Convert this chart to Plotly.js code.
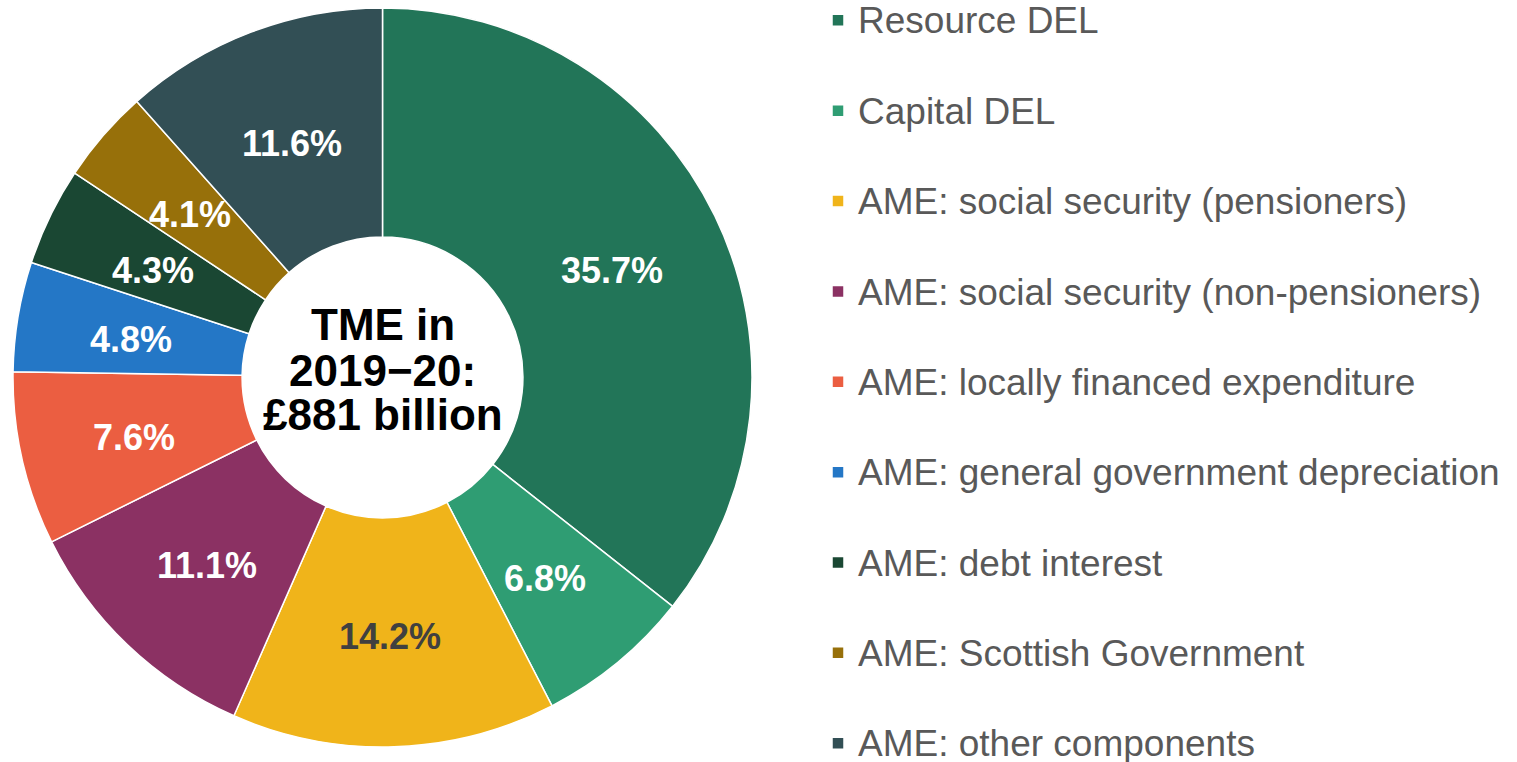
<!DOCTYPE html>
<html>
<head>
<meta charset="utf-8">
<script src="https://cdn.plot.ly/plotly-3.0.1.min.js"></script>
<style>
  html, body { margin: 0; padding: 0; overflow: hidden; background: #ffffff; }
  #chart { width: 1517px; height: 790px; margin-top: -8px; }
</style>
</head>
<body>
<div id="chart"></div>
<script>
// ---- data ----
const categories = [
  "Resource DEL",
  "Capital DEL",
  "AME: social security (pensioners)",
  "AME: social security (non-pensioners)",
  "AME: locally financed expenditure",
  "AME: general government depreciation",
  "AME: debt interest",
  "AME: Scottish Government",
  "AME: other components"
];
const shares = [35.7, 6.8, 14.2, 11.1, 7.6, 4.8, 4.3, 4.1, 11.6];
const colours = ["#227558", "#2f9d73", "#f0b41a", "#8b3163", "#eb5e41", "#2477c6", "#1a4733", "#97700a", "#324f55"];
const labelColours = ["#ffffff", "#ffffff", "#404040", "#ffffff", "#ffffff", "#ffffff", "#ffffff", "#ffffff", "#ffffff"];
const centreLines = ["TME in", "2019\u221220:", "\u00a3881 billion"];

// ---- layout helpers ----
const W = 1517, H = 790, OFFSET = 8;
const cx = 382.5, cy = 377.5 + OFFSET, R = 369.5;
const HOLE = 0.38;

// legend entries: label on the first line, a blank second line for spacing (last entry single line)
const legendLabels = categories.map((c, i) =>
  '<span style="font-size:37px">' + c + '</span>' + (i < categories.length - 1 ? '<br>&#160;' : '')
);

const trace = {
  type: 'pie',
  labels: legendLabels,
  values: shares,
  textinfo: 'none',
  sort: false,
  direction: 'clockwise',
  rotation: 0,
  hole: HOLE,
  marker: { colors: colours, line: { color: '#ffffff', width: 1.5 } },
  hoverinfo: 'none',
  domain: {
    x: [(cx - R) / W, (cx + R) / W],
    y: [(H - cy - R) / H, (H - cy + R) / H]
  }
};

// slice labels: placed at the middle of the ring, at each slice's mid-angle (derived from the shares)
const total = shares.reduce((a, b) => a + b, 0);
const rMid = R * (1 + HOLE) / 2;
let cum = 0;
const sliceLabels = shares.map((v, i) => {
  const mid = (cum + v / 2) / total * 2 * Math.PI;
  cum += v;
  const px = cx + rMid * Math.sin(mid);
  const py = cy - rMid * Math.cos(mid) + 4;
  return {
    text: '<b>' + v.toFixed(1) + '%</b>',
    x: px / W, y: (H - py) / H, xref: 'paper', yref: 'paper',
    xanchor: 'center', yanchor: 'middle', showarrow: false,
    font: { family: 'Liberation Sans, Arial, sans-serif', size: 36, color: labelColours[i] }
  };
});

const annY = (H - cy) / H;
const centreAnns = centreLines.map((t, i) => ({
  text: '<b>' + t + '</b>',
  x: cx / W, y: annY, xref: 'paper', yref: 'paper',
  xanchor: 'center', yanchor: 'middle',
  showarrow: false,
  height: 40,
  borderpad: 0,
  yshift: [54, 7.5, -36.5][i],
  font: { family: 'Liberation Sans, Arial, sans-serif', size: 44, color: '#000000' }
}));

const layout = {
  width: W, height: H,
  margin: { l: 0, r: 0, t: 0, b: 0 },
  paper_bgcolor: '#ffffff',
  showlegend: true,
  legend: {
    x: 818 / W, xanchor: 'left',
    y: 1, yanchor: 'top',
    valign: 'top',
    font: { family: 'Liberation Sans, Arial, sans-serif', size: 33.6, color: '#595959' },
    bgcolor: 'rgba(0,0,0,0)'
  },
  annotations: sliceLabels.concat(centreAnns)
};

Plotly.newPlot('chart', [trace], layout, { displayModeBar: false, staticPlot: true });
</script>
</body>
</html>
